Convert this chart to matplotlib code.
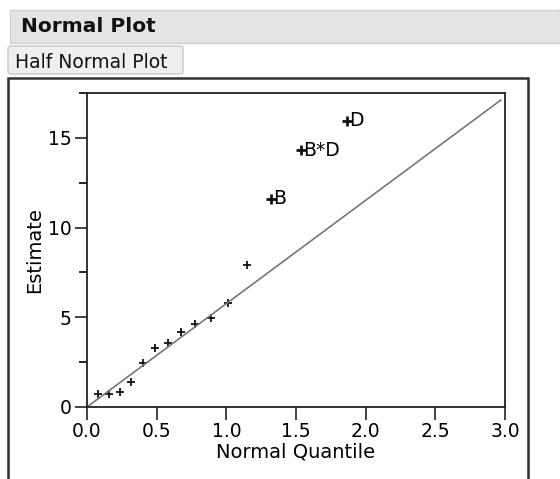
import matplotlib.pyplot as plt
from matplotlib.patches import Rectangle, FancyBboxPatch
from matplotlib.ticker import MultipleLocator

# half normal quantiles and absolute effect estimates
quantil = [0.078, 0.157, 0.237, 0.319, 0.402, 0.489, 0.579, 0.674,
           0.776, 0.887, 1.010, 1.150, 1.318, 1.534, 1.863]
estimativa = [0.72, 0.73, 0.82, 1.40, 2.47, 3.29, 3.55, 4.18,
              4.65, 4.97, 5.78, 7.90, 11.6, 14.32, 15.95]
rotulos = [''] * 12 + ['B', 'B*D', 'D']

# reference line (through origin)
linha_x = [0.0, 2.97]
inclinacao = 5.76

fig = plt.figure(figsize=(5.6, 4.79), dpi=100)

# header bar "Normal Plot"
fig.patches.append(Rectangle((10 / 560, 1 - 43 / 479), 550 / 560, 33 / 479,
                             transform=fig.transFigure, facecolor='#e4e4e4',
                             edgecolor='#cfcfcf', lw=1))
fig.text(21 / 560, 1 - 27 / 479, 'Normal Plot', fontsize=14.5, fontweight='bold',
         va='center', ha='left', color='#111111')

# tab "Half Normal Plot"
fig.patches.append(FancyBboxPatch((8 / 560, 1 - 74 / 479), 175 / 560, 28 / 479,
                                  boxstyle='round,pad=0,rounding_size=0.006',
                                  transform=fig.transFigure, facecolor='#efefef',
                                  edgecolor='#c8c8c8', lw=1))
fig.text(15 / 560, 1 - 62 / 479, 'Half Normal Plot', fontsize=13.5,
         va='center', ha='left', color='#111111')

# outer frame
fig.patches.append(Rectangle((8 / 560, -0.05), 520 / 560, 1.05 - 78 / 479,
                             transform=fig.transFigure, facecolor='none',
                             edgecolor='#333333', lw=1.8))

ax = fig.add_axes([87 / 560, 1 - 407 / 479, 418 / 560, 314 / 479])

ax.plot(linha_x, [x * inclinacao for x in linha_x], color='#777777', lw=1.2)
ax.scatter(quantil[:12], estimativa[:12], marker='+', s=30, color='#111111', lw=1.3)
ax.scatter(quantil[12:], estimativa[12:], marker='+', s=45, color='#111111', lw=2)
for x, y, r in zip(quantil, estimativa, rotulos):
    if r:
        ax.annotate(r, (x, y), xytext=(2, 0), textcoords='offset points',
                    va='center', ha='left', fontsize=13.5)

ax.set_xlim(0, 3.0)
ax.set_ylim(0, 17.5)
ax.xaxis.set_major_locator(MultipleLocator(0.5))
ax.yaxis.set_major_locator(MultipleLocator(5))
ax.yaxis.set_minor_locator(MultipleLocator(2.5))
ax.tick_params(axis='both', which='major', direction='out', length=9, width=1.2,
               labelsize=13.5, color='#222222', pad=2)
ax.tick_params(axis='y', which='minor', direction='out', length=6, width=1.2)
ax.set_xticklabels([f'{v:.1f}' for v in ax.get_xticks()])
for s in ax.spines.values():
    s.set_linewidth(1.3)
    s.set_color('#222222')

ax.set_xlabel('Normal Quantile', fontsize=14, labelpad=1)
ax.set_ylabel('Estimate', fontsize=14, labelpad=3)

fig.savefig('out.png', dpi=100)
